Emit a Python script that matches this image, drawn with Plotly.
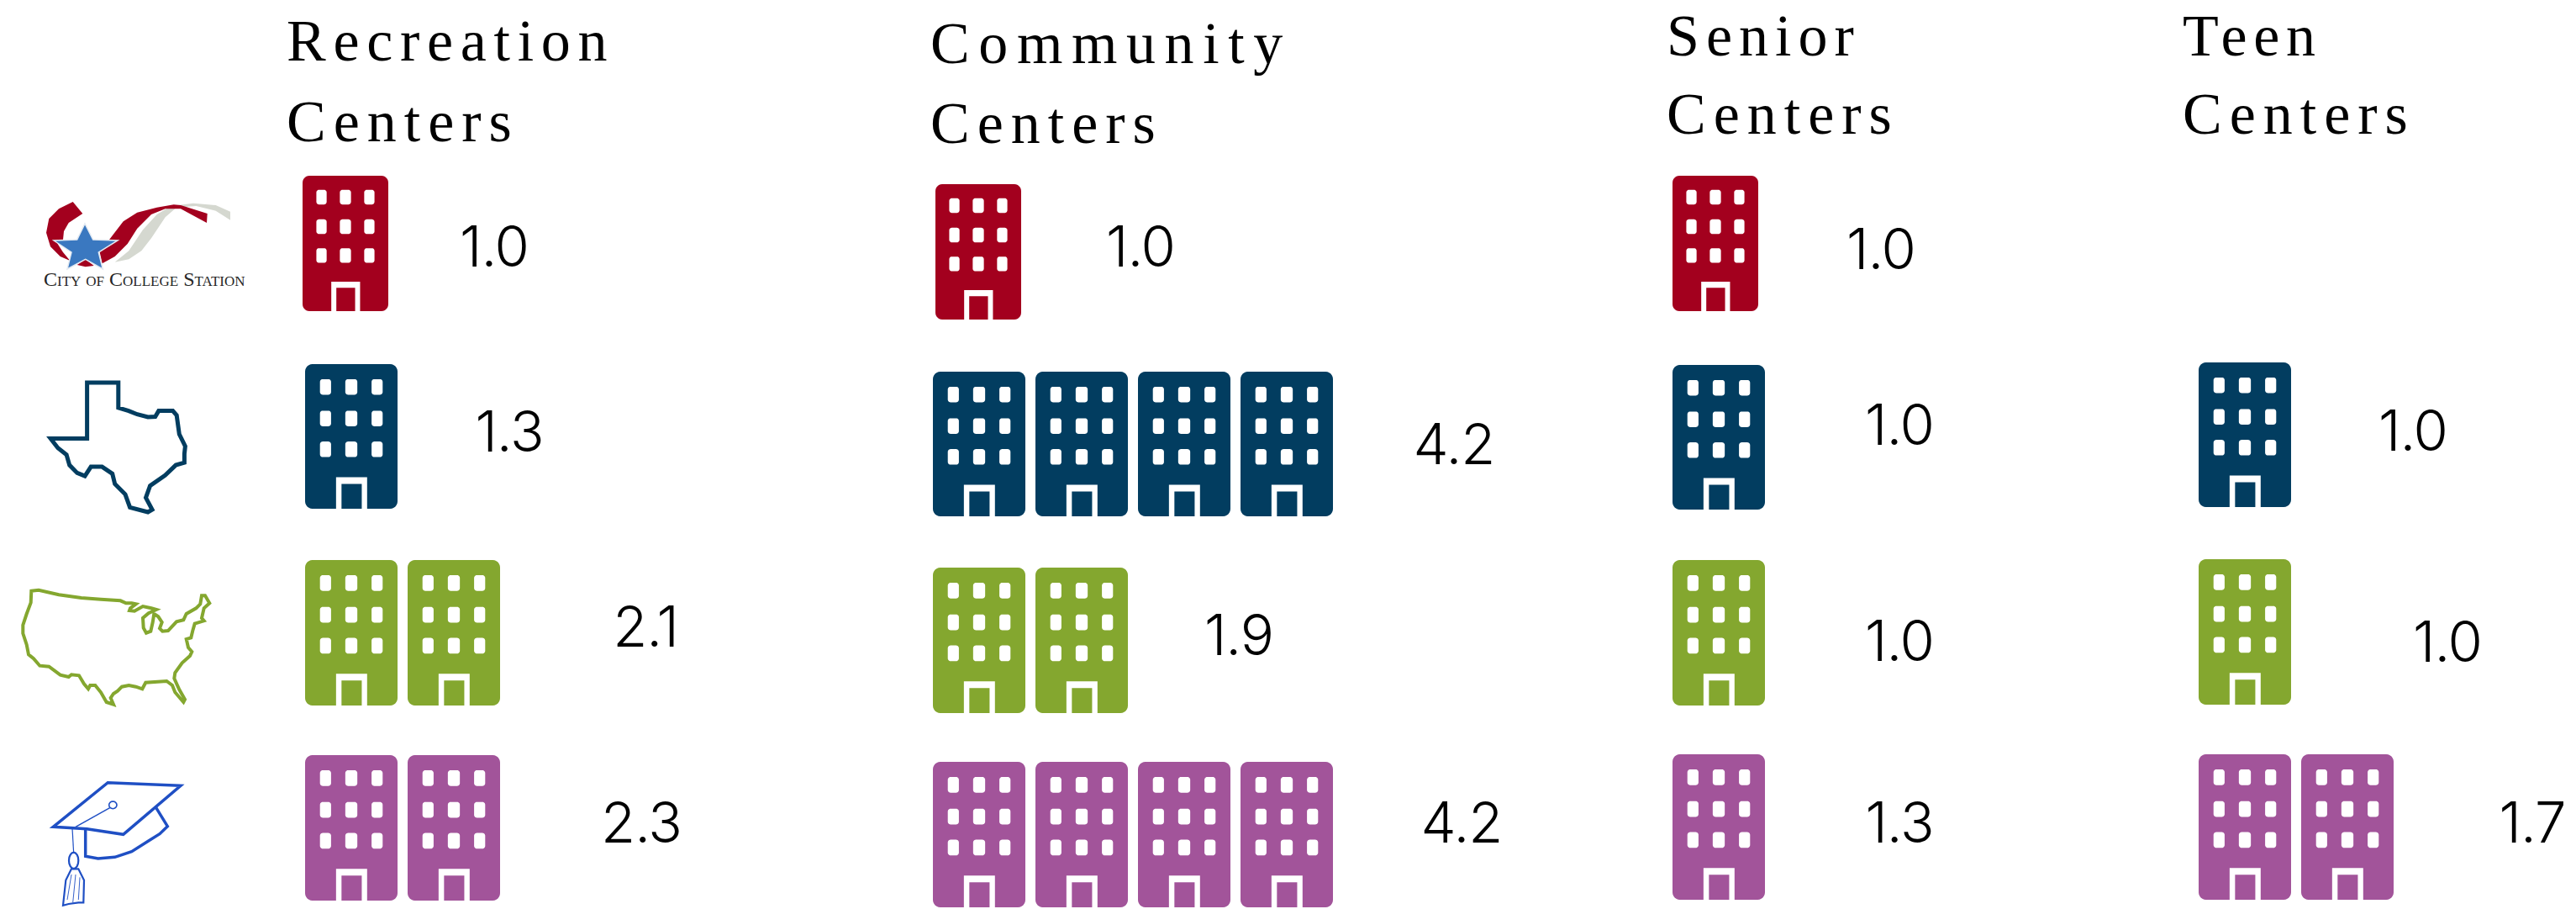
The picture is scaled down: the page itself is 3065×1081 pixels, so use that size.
import math
import plotly.graph_objects as go

# ---------- data ----------
metrics = ["Recreation Centers", "Community Centers", "Senior Centers", "Teen Centers"]
regions = ["College Station", "Texas", "United States", "Peer Universities"]
recreation = [1.0, 1.3, 2.1, 2.3]
community = [1.0, 4.2, 1.9, 4.2]
senior = [1.0, 1.0, 1.0, 1.3]
teen = [None, 1.0, 1.0, 1.7]
values = [recreation, community, senior, teen]
title_lines = [["Recreation", "Centers"], ["Community", "Centers"], ["Senior", "Centers"], ["Teen", "Centers"]]

# ---------- styles / layout (pixel space of the canvas) ----------
W, H = 3065, 1081
colors = ["#A3001E", "#023D60", "#84A72F", "#A2549A"]
glyph_w = [102, 110, 110, 110]
glyph_h = [161, 172, 173, 173]
glyph_gap = 12
glyph_x = [[360, 363, 363, 363], [1113, 1110, 1110, 1110], [1990, 1990, 1990, 1990], [None, 2616, 2616, 2616]]
glyph_y = [[209, 433, 666, 898], [219, 442, 675, 906], [209, 434, 666, 897], [None, 431, 665, 897]]
# centres of the digits
label_x = [[588, 606, 768, 763], [1357, 1730, 1474, 1739], [2238, 2260, 2260, 2260], [None, 2871, 2912, 3013]]
label_y = [[296, 516, 748, 981], [296, 531, 758, 981], [299, 508, 765, 981], [None, 515, 766, 981]]
title_x = [341, 1107, 1983, 2597]
title_base = [[69, 165], [72, 167], [63, 156], [63, 156]]
title_spacing = [[8.7, 9], [10.6, 9], [8, 9], [7.7, 9]]
TITLE_SIZE = 70
VALUE_SIZE = 67

# glyph proportions
RADIUS = 0.08
WIN_COLS = [(0.161, 0.281), (0.435, 0.565), (0.719, 0.839)]
WIN_ROWS = [(0.104, 0.212), (0.322, 0.430), (0.535, 0.643)]
DOOR_OUT = (0.335, 0.671, 0.782)
DOOR_IN = (0.394, 0.613, 0.828)


def rect(x0, y0, x1, y1):
    return [x0, x1, x1, x0, x0, None], [y0, y0, y1, y1, y0, None]


def round_rect(x0, y0, x1, y1, r):
    xs, ys = [], []
    corners = [(x0 + r, y0 + r, 180), (x1 - r, y0 + r, 270), (x1 - r, y1 - r, 0), (x0 + r, y1 - r, 90)]
    for cx, cy, start in corners:
        for k in range(7):
            a = math.radians(start + 15 * k)
            xs.append(cx + r * math.cos(a)); ys.append(cy + r * math.sin(a))
    xs += [xs[0], None]; ys += [ys[0], None]
    return xs, ys


fig = go.Figure()

for r, region in enumerate(regions):
    body_x, body_y, white_x, white_y, door_x, door_y = [], [], [], [], [], []
    for m, metric in enumerate(metrics):
        v = values[m][r]
        if v is None:
            continue
        w, h = glyph_w[r], glyph_h[r]
        for n in range(int(round(v))):
            x0 = glyph_x[m][r] + n * (w + glyph_gap)
            y0 = glyph_y[m][r]
            xs, ys = round_rect(x0, y0, x0 + w, y0 + h, RADIUS * w)
            body_x += xs; body_y += ys
            for c0, c1 in WIN_COLS:
                for r0, r1 in WIN_ROWS:
                    xs, ys = round_rect(x0 + c0 * w, y0 + r0 * h, x0 + c1 * w, y0 + r1 * h, 0.03 * w)
                    white_x += xs; white_y += ys
            xs, ys = rect(x0 + DOOR_OUT[0] * w, y0 + DOOR_OUT[2] * h, x0 + DOOR_OUT[1] * w, y0 + h + 0.5)
            white_x += xs; white_y += ys
            xs, ys = rect(x0 + DOOR_IN[0] * w, y0 + DOOR_IN[2] * h, x0 + DOOR_IN[1] * w, y0 + h)
            door_x += xs; door_y += ys
    for name, xs, ys, col in [(region, body_x, body_y, colors[r]), (region + " windows", white_x, white_y, "#FFFFFF"),
                              (region + " doors", door_x, door_y, colors[r])]:
        fig.add_trace(go.Scatter(x=xs, y=ys, mode="none", fill="toself", fillcolor=col, name=name,
                                 hoverinfo="skip", showlegend=False))

# value labels (plotly puts the baseline 0.3 em below the middle anchor; digits are 0.727 em tall)
anchor_shift = (0.727 / 2 - 0.3) * VALUE_SIZE
for r, region in enumerate(regions):
    xs, ys, txt = [], [], []
    for m in range(len(metrics)):
        v = values[m][r]
        if v is None:
            continue
        xs.append(label_x[m][r]); ys.append(label_y[m][r] + anchor_shift); txt.append(f"{v:.1f}")
    fig.add_trace(go.Scatter(x=xs, y=ys, mode="text", text=txt, textposition="middle center",
                             textfont=dict(family="Inter, Lato, sans-serif", size=VALUE_SIZE, color="#000000", weight=300),
                             name=region + " values", showlegend=False, cliponaxis=False))

# titles: annotation box is 80 px tall, baseline 62.4 px below its top
annotations = []
for m, lines in enumerate(title_lines):
    for l, line in enumerate(lines):
        annotations.append(dict(x=title_x[m], y=title_base[m][l] + 17.6, xref="x", yref="y", text=line, showarrow=False,
                                xanchor="left", yanchor="bottom", align="left", borderpad=0, borderwidth=0,
                                font=dict(family="Liberation Serif", size=TITLE_SIZE, color="#000000")))

annotations.append(dict(x=50, y=332, xref="x", yref="y", text="City of College Station", showarrow=False,
                        xanchor="left", yanchor="middle", align="left",
                        font=dict(family="Liberation Serif", size=24, color="#262626", variant="small-caps")))

def crop(ox, oy, s=3.0):
    return lambda pts: [(ox + x / s, oy + y / s) for x, y in pts]


def path(pts, close=False):
    d = "M" + " L".join(f"{x:.1f},{y:.1f}" for x, y in pts)
    return d + (" Z" if close else "")


shapes = []


def line_icon(pts, color, width, close=False):
    shapes.append(dict(type="path", path=path(pts, close), xref="x", yref="y", line=dict(color=color, width=width),
                       fillcolor="rgba(0,0,0,0)", layer="above"))


def fill_icon(pts, color, edge=None):
    line = dict(color=edge, width=1.5) if edge else dict(width=0)
    shapes.append(dict(type="path", path=path(pts, True), xref="x", yref="y", line=line, fillcolor=color,
                       layer="above"))


def oval(cx, cy, rx, ry, n=16):
    return [(cx + rx * math.cos(2 * math.pi * i / n), cy + ry * math.sin(2 * math.pi * i / n)) for i in range(n)]


# College Station logo
c1 = crop(40, 230)
fill_icon(c1([(290, 245), (340, 205), (390, 130), (440, 75), (490, 45), (570, 35), (650, 42), (702, 65), (702, 95),
              (650, 62), (580, 45), (510, 50), (470, 85), (420, 160), (385, 205), (340, 235)]), "#D5D8D0")
fill_icon(c1([(140, 30), (175, 72), (125, 105), (108, 135), (105, 165), (78, 168), (105, 210), (130, 240), (95, 225),
              (60, 190), (45, 140), (55, 90), (90, 55)]), colors[0])
fill_icon(c1([(155, 255), (185, 235), (215, 258), (185, 262)]), colors[0])
fill_icon(c1([(270, 165), (320, 100), (370, 68), (440, 50), (500, 40), (525, 42), (620, 72), (618, 105), (525, 55),
              (470, 55), (420, 75), (370, 125), (335, 180), (290, 225), (245, 250), (235, 205)]), colors[0])
fill_icon(c1([(183, 108), (212, 165), (300, 168), (232, 210), (247, 270), (185, 235), (120, 270), (135, 210), (72, 168),
              (155, 165)]), "#3A78C0", "#E3EAF2")

# Texas
line_icon([(x / 1.96, y / 2.45) for x, y in
           [(118, 1278), (203, 1278), (203, 1115), (276, 1115), (276, 1188), (300, 1197), (320, 1207), (345, 1215),
            (362, 1214), (370, 1197), (403, 1197), (412, 1210), (418, 1265), (432, 1300), (430, 1322), (430, 1348),
            (410, 1355), (385, 1385), (350, 1415), (340, 1450), (355, 1485), (345, 1492), (303, 1478), (292, 1440),
            (268, 1410), (262, 1380), (238, 1360), (212, 1360), (198, 1387), (180, 1378), (162, 1355), (155, 1325),
            (135, 1305), (118, 1278)]], colors[1], 5, True)

# United States
c2 = crop(20, 660)
line_icon(c2([(52, 128), (78, 125), (150, 142), (230, 153), (300, 158), (370, 163), (390, 172), (410, 172), (425, 175),
              (405, 190), (402, 198), (420, 200), (450, 183), (480, 190), (498, 195), (470, 208), (450, 225), (452, 260),
              (462, 278), (478, 272), (485, 240), (490, 210), (505, 220), (518, 240), (510, 262), (520, 272), (540, 270),
              (570, 238), (595, 232), (605, 210), (640, 190), (655, 175), (660, 145), (672, 145), (688, 172), (668, 190),
              (660, 225), (668, 235), (635, 245), (628, 270), (622, 295), (605, 300), (612, 330), (625, 345), (618, 360),
              (590, 385), (565, 420), (562, 440), (580, 480), (600, 515), (595, 525), (565, 490), (555, 465), (535, 450),
              (460, 455), (448, 478), (425, 470), (400, 465), (375, 470), (360, 485), (345, 495), (335, 510), (345, 533),
              (320, 525), (300, 490), (280, 465), (262, 465), (255, 478), (240, 460), (222, 430), (195, 427), (185, 435),
              (155, 428), (115, 398), (82, 395), (60, 370), (42, 355), (35, 320), (22, 280), (22, 250), (35, 210),
              (50, 170)]), colors[2], 4, True)

# Graduation cap
CAP = "#1F4FC4"
c3 = crop(40, 920)
line_icon(c3([(70, 190), (265, 32), (525, 43), (320, 217), (190, 197)]), CAP, 3.5, True)
line_icon(c3([(185, 197), (185, 295), (230, 303), (290, 298), (350, 278), (410, 240), (450, 215), (478, 188),
              (435, 118)]), CAP, 3.5)
line_icon(c3([(272, 122), (150, 190)]), CAP, 1.5)
line_icon(c3([(138, 195), (143, 285)]), CAP, 1.2)
line_icon(c3(oval(283, 112, 14, 13)), CAP, 1.6, True)
line_icon(c3(oval(143, 310, 17, 29)), CAP, 2.2, True)
line_icon(c3([(135, 340), (115, 380), (105, 470), (125, 465), (160, 460), (178, 460), (180, 380), (160, 340)]), CAP, 2.2, True)
line_icon(c3([(135, 360), (120, 450)]), CAP, 0.9)
line_icon(c3([(150, 360), (140, 460)]), CAP, 0.9)
line_icon(c3([(165, 370), (160, 450)]), CAP, 0.9)

fig.update_layout(
    width=W, height=H, margin=dict(l=0, r=0, t=0, b=0), paper_bgcolor="#FFFFFF", plot_bgcolor="#FFFFFF",
    xaxis=dict(range=[0, W], visible=False, fixedrange=True),
    yaxis=dict(range=[H, 0], visible=False, fixedrange=True),
    showlegend=False, annotations=annotations, shapes=shapes,
)

flat = [title_spacing[m][l] for m in range(4) for l in range(2)]
post = """
(function(){
  var flat = %s;
  document.body.style.margin = '0';
  document.documentElement.style.overflow = 'hidden';
  function apply(){
    var els = document.querySelectorAll('text.annotation-text');
    for (var i = 0; i < flat.length && i < els.length; i++) { els[i].style.letterSpacing = flat[i] + 'px'; }
    document.querySelectorAll('g.textpoint text').forEach(function(t){ t.style.letterSpacing = '-1px'; });
  }
  var gd = document.getElementById('{plot_id}');
  apply();
  if (gd && gd.on) gd.on('plotly_afterplot', apply);
  setTimeout(apply, 100);
})();
""" % flat

fig.write_html("out.html", post_script=post, config={"displayModeBar": False})
